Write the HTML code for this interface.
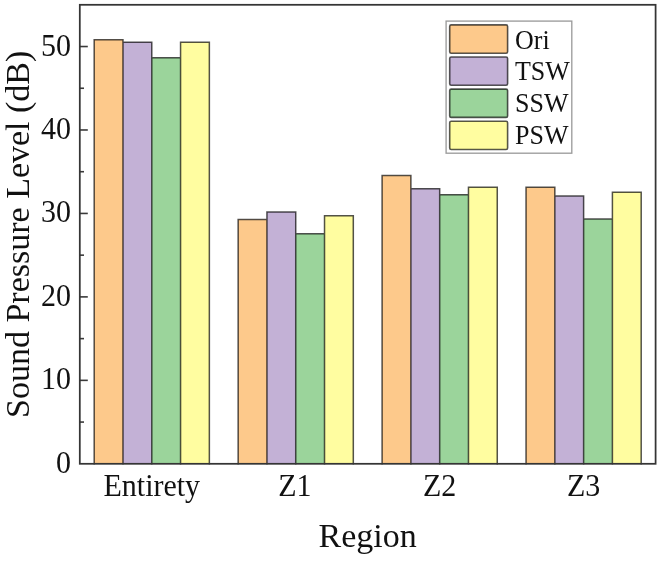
<!DOCTYPE html>
<html><head><meta charset="utf-8"><style>
html,body{margin:0;padding:0;background:#fff;width:664px;height:562px;overflow:hidden}
svg{display:block;will-change:transform;font-family:"Liberation Serif",serif;fill:#111}
</style></head><body>
<svg width="664" height="562" viewBox="0 0 664 562">
<rect x="94.19" y="39.68" width="28.79" height="424.12" fill="#FDC98B"/>
<rect x="122.98" y="42.19" width="28.79" height="421.61" fill="#C3B1D6"/>
<rect x="151.78" y="57.79" width="28.79" height="406.01" fill="#9BD49B"/>
<rect x="180.56" y="42.27" width="28.79" height="421.53" fill="#FFFDA0"/>
<path d="M94.19 39.68H122.98M122.98 42.19H151.78M151.78 57.79H180.56M180.56 42.27H209.36M94.19 39.68V463.80M122.98 39.68V463.80M151.78 42.19V463.80M180.56 42.27V463.80M209.36 42.27V463.80" stroke="#000" stroke-opacity="0.68" stroke-width="1.5" fill="none" stroke-linecap="square"/>
<rect x="238.15" y="219.53" width="28.79" height="244.27" fill="#FDC98B"/>
<rect x="266.94" y="212.02" width="28.79" height="251.78" fill="#C3B1D6"/>
<rect x="295.73" y="233.80" width="28.79" height="230.00" fill="#9BD49B"/>
<rect x="324.52" y="215.69" width="28.79" height="248.11" fill="#FFFDA0"/>
<path d="M238.15 219.53H266.94M266.94 212.02H295.73M295.73 233.80H324.52M324.52 215.69H353.31M238.15 219.53V463.80M266.94 212.02V463.80M295.73 212.02V463.80M324.52 215.69V463.80M353.31 215.69V463.80" stroke="#000" stroke-opacity="0.68" stroke-width="1.5" fill="none" stroke-linecap="square"/>
<rect x="382.10" y="175.55" width="28.79" height="288.25" fill="#FDC98B"/>
<rect x="410.89" y="188.65" width="28.79" height="275.15" fill="#C3B1D6"/>
<rect x="439.68" y="194.66" width="28.79" height="269.14" fill="#9BD49B"/>
<rect x="468.47" y="187.15" width="28.79" height="276.65" fill="#FFFDA0"/>
<path d="M382.10 175.55H410.89M410.89 188.65H439.68M439.68 194.66H468.47M468.47 187.15H497.26M382.10 175.55V463.80M410.89 175.55V463.80M439.68 188.65V463.80M468.47 187.15V463.80M497.26 187.15V463.80" stroke="#000" stroke-opacity="0.68" stroke-width="1.5" fill="none" stroke-linecap="square"/>
<rect x="526.04" y="187.32" width="28.79" height="276.48" fill="#FDC98B"/>
<rect x="554.83" y="196.08" width="28.79" height="267.72" fill="#C3B1D6"/>
<rect x="583.62" y="219.11" width="28.79" height="244.69" fill="#9BD49B"/>
<rect x="612.41" y="192.16" width="28.79" height="271.64" fill="#FFFDA0"/>
<path d="M526.04 187.32H554.83M554.83 196.08H583.62M583.62 219.11H612.41M612.41 192.16H641.20M526.04 187.32V463.80M554.83 187.32V463.80M583.62 196.08V463.80M612.41 192.16V463.80M641.20 192.16V463.80" stroke="#000" stroke-opacity="0.68" stroke-width="1.5" fill="none" stroke-linecap="square"/>
<line x1="79.80" y1="422.07" x2="84.00" y2="422.07" stroke="#3a3a3a" stroke-width="1.6"/>
<line x1="79.80" y1="380.35" x2="87.80" y2="380.35" stroke="#3a3a3a" stroke-width="1.6"/>
<line x1="79.80" y1="338.62" x2="84.00" y2="338.62" stroke="#3a3a3a" stroke-width="1.6"/>
<line x1="79.80" y1="296.89" x2="87.80" y2="296.89" stroke="#3a3a3a" stroke-width="1.6"/>
<line x1="79.80" y1="255.16" x2="84.00" y2="255.16" stroke="#3a3a3a" stroke-width="1.6"/>
<line x1="79.80" y1="213.44" x2="87.80" y2="213.44" stroke="#3a3a3a" stroke-width="1.6"/>
<line x1="79.80" y1="171.71" x2="84.00" y2="171.71" stroke="#3a3a3a" stroke-width="1.6"/>
<line x1="79.80" y1="129.98" x2="87.80" y2="129.98" stroke="#3a3a3a" stroke-width="1.6"/>
<line x1="79.80" y1="88.25" x2="84.00" y2="88.25" stroke="#3a3a3a" stroke-width="1.6"/>
<line x1="79.80" y1="46.53" x2="87.80" y2="46.53" stroke="#3a3a3a" stroke-width="1.6"/>
<rect x="79.80" y="4.80" width="575.80" height="459.00" fill="none" stroke="#353535" stroke-width="1.75"/>
<text transform="translate(71.10 472.80) scale(1 1.03)" text-anchor="end" font-size="30">0</text>
<text transform="translate(71.10 389.35) scale(1 1.03)" text-anchor="end" font-size="30">10</text>
<text transform="translate(71.10 305.89) scale(1 1.03)" text-anchor="end" font-size="30">20</text>
<text transform="translate(71.10 222.44) scale(1 1.03)" text-anchor="end" font-size="30">30</text>
<text transform="translate(71.10 138.98) scale(1 1.03)" text-anchor="end" font-size="30">40</text>
<text transform="translate(71.10 55.53) scale(1 1.03)" text-anchor="end" font-size="30">50</text>
<text transform="translate(151.78 496.2) scale(1 1.03)" text-anchor="middle" font-size="30">Entirety</text>
<text transform="translate(294.93 496.2) scale(1 1.03)" text-anchor="middle" font-size="30">Z1</text>
<text transform="translate(439.68 496.2) scale(1 1.03)" text-anchor="middle" font-size="30">Z2</text>
<text transform="translate(583.62 496.2) scale(1 1.03)" text-anchor="middle" font-size="30">Z3</text>
<text x="367.70" y="547.1" text-anchor="middle" font-size="34">Region</text>
<text transform="translate(28.7 234.30) rotate(-90)" x="0" y="0" text-anchor="middle" font-size="34">Sound Pressure Level (dB)</text>
<rect x="446.1" y="21.1" width="125.7" height="132.1" fill="#fff" stroke="#9c9c9c" stroke-width="1.35"/>
<rect x="449.7" y="24.90" width="57.9" height="28.3" rx="1.5" fill="#FDC98B" stroke="#000" stroke-opacity="0.66" stroke-width="1.6"/>
<text transform="translate(515 48.70) scale(1 1.03)" font-size="26">Ori</text>
<rect x="449.7" y="57.00" width="57.9" height="28.3" rx="1.5" fill="#C3B1D6" stroke="#000" stroke-opacity="0.66" stroke-width="1.6"/>
<text transform="translate(515 80.45) scale(1 1.03)" font-size="26">TSW</text>
<rect x="449.7" y="89.10" width="57.9" height="28.3" rx="1.5" fill="#9BD49B" stroke="#000" stroke-opacity="0.66" stroke-width="1.6"/>
<text transform="translate(515 112.20) scale(1 1.03)" font-size="26">SSW</text>
<rect x="449.7" y="121.20" width="57.9" height="28.3" rx="1.5" fill="#FFFDA0" stroke="#000" stroke-opacity="0.66" stroke-width="1.6"/>
<text transform="translate(515 143.95) scale(1 1.03)" font-size="26">PSW</text>
</svg>
</body></html>
